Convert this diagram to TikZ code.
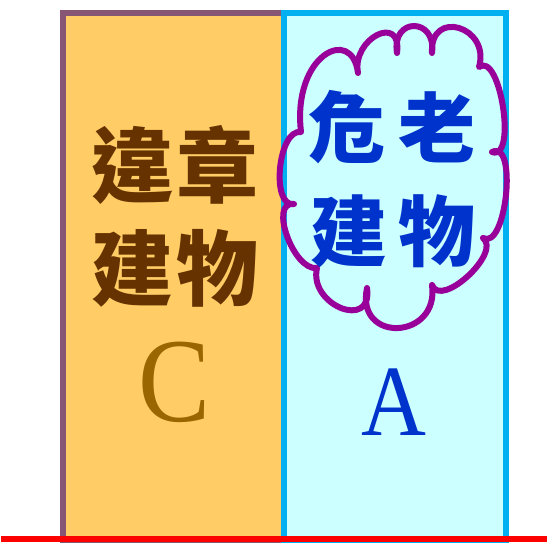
\documentclass[tikz,border=0pt]{standalone}
\usepackage{fontspec}
\usepackage{graphicx}
\setmainfont{Liberation Serif}
\newfontfamily\cjk{Noto Sans CJK TC}
\definecolor{orangefill}{RGB}{255,204,102}
\definecolor{leftborder}{RGB}{134,86,116}
\definecolor{cyanfill}{RGB}{204,255,255}
\definecolor{cyanborder}{RGB}{0,176,240}
\definecolor{cloudpurple}{RGB}{153,0,153}
\definecolor{browntext}{RGB}{102,51,0}
\definecolor{goldtext}{RGB}{153,102,0}
\definecolor{bluetext}{RGB}{0,51,204}
\tikzset{
  lefttext/.style={inner sep=0pt, text=browntext, font=\cjk\bfseries\fontsize{82}{82}\selectfont},
  righttext/.style={inner sep=0pt, text=bluetext, font=\cjk\bfseries\fontsize{77}{77}\selectfont},
  cletter/.style={inner sep=0pt, text=goldtext, font=\fontsize{120}{120}\selectfont},
  aletter/.style={inner sep=0pt, text=bluetext, font=\fontsize{101}{101}\selectfont},
  cloudline/.style={draw=cloudpurple, line width=6pt, line join=round},
}
\begin{document}
\begin{tikzpicture}[x=1pt,y=-1pt]
\useasboundingbox (0,0) rectangle (547,542);
\fill[white] (0,0) rectangle (547,542);
% buildings
\filldraw[fill=orangefill, draw=leftborder, line width=6pt] (62.5,12.5) rectangle (284,542);
\filldraw[fill=cyanfill, draw=cyanborder, line width=6pt] (284,12.5) rectangle (505.6,542);
% ground line
\fill[red] (1,535.5) rectangle (547,542);
% cloud
\draw[cloudline] (301,132) .. controls (292,55) and (352,25) .. (358,73)
  .. controls (351.5,38.7) and (402.2,12.7) .. (397,53)
  .. controls (391.1,17) and (436.6,17) .. (432,53)
  .. controls (429.6,8.2) and (490.7,26.4) .. (479,67)
  .. controls (500.4,51) and (517.3,161.5) .. (492,152)
  .. controls (518,139.1) and (506.3,250.9) .. (483,238)
  .. controls (502.1,252.6) and (440.9,309) .. (432,285)
  .. controls (439.75,339.9) and (355.25,343.8) .. (367,288)
  .. controls (373.2,331) and (308.2,305) .. (317,268)
  .. controls (293.5,271.2) and (268.2,200.8) .. (294,204)
  .. controls (270.4,207.6) and (278.1,128.4) .. (301,132) -- cycle;
% left texts
\node[lefttext] (wei) at (132,165) {違};
\node[lefttext] (zhang) at (217,165) {章};
\node[lefttext] (jianC) at (132,268) {建};
\node[lefttext] (wuC) at (217,268) {物};
\node[cletter] (cC) at (175,382) {\scalebox{0.9}[1]{C}};
% right texts
\node[righttext] (wei2) at (347,127) {危};
\node[righttext] (lao) at (437,127) {老};
\node[righttext] (jianA) at (349,231) {建};
\node[righttext] (wuA) at (437,231) {物};
\node[aletter] (aA) at (394,402) {\scalebox{0.89}[1]{A}};
\end{tikzpicture}
\end{document}
